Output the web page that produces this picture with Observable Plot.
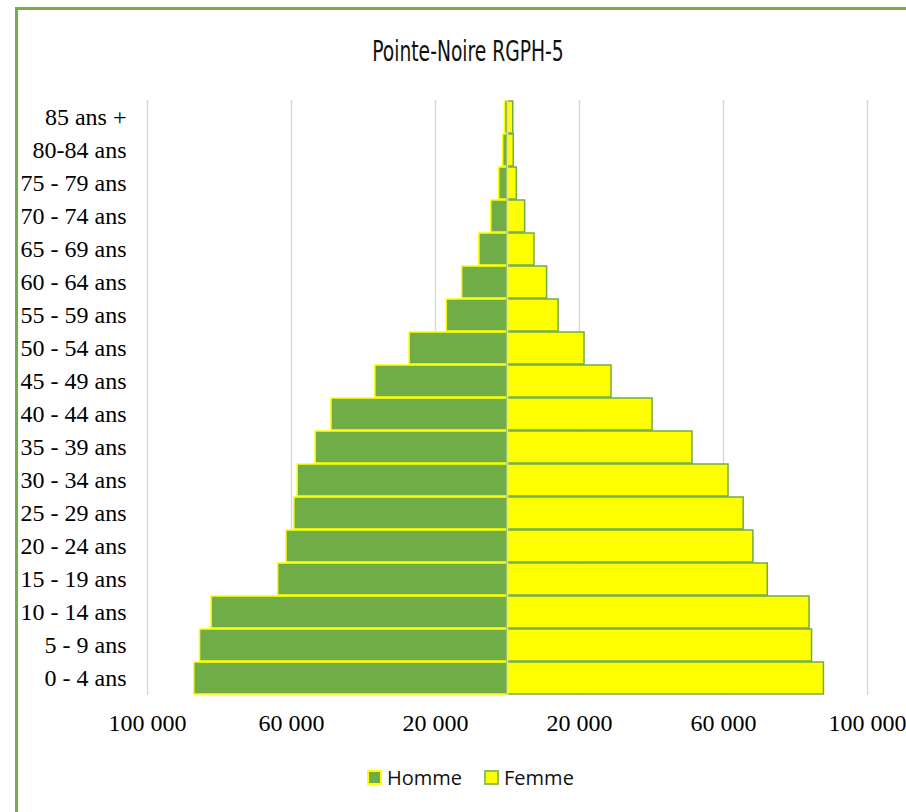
<!DOCTYPE html>
<html>
<head>
<meta charset="utf-8">
<script src="https://cdn.jsdelivr.net/npm/d3@7"></script>
<script src="https://cdn.jsdelivr.net/npm/@observablehq/plot@0.6"></script>
<style>
  html, body { margin: 0; padding: 0; background: #fff; overflow: hidden; width: 906px; height: 812px; }
  #frame { position: absolute; left: 15px; top: 7px; width: 1200px; height: 1200px; border: 3px solid #72AE4A; box-sizing: border-box; }
  #title { position: absolute; left: 0; top: 36px; width: 936px; text-align: center; font-family: "DejaVu Sans Condensed", "Liberation Sans Narrow", sans-serif; font-size: 26px; color: #111; transform: scale(0.8, 1.08); transform-origin: 468px 50%; }
  #chart { position: absolute; left: 0; top: 90px; }
  #legend { position: absolute; top: 764px; left: 367px; display: flex; align-items: center; font-family: "Open Sans", sans-serif; font-size: 20px; color: #111; }
  .sw { width: 11px; height: 11px; border: 2px solid; margin-right: 5px; }
  .item { display: flex; align-items: center; margin-right: 22px; }
</style>
</head>
<body>
<div id="frame"></div>
<div id="title">Pointe-Noire RGPH-5</div>
<div id="chart"></div>
<div id="legend"></div>
<script>
const ageGroups = ["0 - 4 ans","5 - 9 ans","10 - 14 ans","15 - 19 ans","20 - 24 ans","25 - 29 ans","30 - 34 ans","35 - 39 ans","40 - 44 ans","45 - 49 ans","50 - 54 ans","55 - 59 ans","60 - 64 ans","65 - 69 ans","70 - 74 ans","75 - 79 ans","80-84 ans","85 ans +"];
const homme = [87000, 85400, 82200, 63700, 61400, 59200, 58300, 53300, 48900, 36700, 27200, 16900, 12600, 7800, 4500, 2300, 1200, 700];
const femme = [87900, 84600, 83900, 72300, 68300, 65600, 61400, 51400, 40300, 28900, 21400, 14200, 11000, 7500, 4900, 2600, 1750, 1600];
const xTicks = [-100000, -60000, -20000, 20000, 60000, 100000];
const seriesNames = ["Homme", "Femme"];

const green = "#70AD47";
const yellow = "#FFFF00";

const rows = [];
ageGroups.forEach((g, i) => {
  rows.push({age: g, sexe: "Homme", v: -homme[i]});
  rows.push({age: g, sexe: "Femme", v: femme[i]});
});

const fmt = d => d3.format(",")(Math.abs(d)).replace(/,/g, " ");

const chart = Plot.plot({
  width: 906,
  height: 650,
  marginTop: 10,
  marginBottom: 45,
  marginLeft: 147,
  marginRight: 39,
  style: {fontFamily: "Liberation Serif, Times New Roman, serif", fontSize: "24px", color: "#000", background: "transparent", overflow: "visible"},
  x: {domain: [-100000, 100000], ticks: xTicks, tickFormat: fmt, label: null},
  y: {domain: ageGroups.slice().reverse(), paddingInner: 0.04, paddingOuter: 0.02, label: null},
  marks: [
    Plot.ruleX(xTicks, {stroke: "#d9d9d9", strokeWidth: 1.5}),
    Plot.barX(rows.filter(d => d.sexe === "Homme"), {x: "v", y: "age", fill: green, stroke: yellow, strokeWidth: 1.5}),
    Plot.barX(rows.filter(d => d.sexe === "Femme"), {x: "v", y: "age", fill: yellow, stroke: green, strokeWidth: 1.5}),
    Plot.ruleX([0], {stroke: "#d9d9d9", strokeWidth: 1.5}),
    Plot.axisX({ticks: xTicks, tickFormat: fmt, tickSize: 0, tickPadding: 18, fill: "#000"}),
    Plot.axisY({tickSize: 0, tickPadding: 21, fill: "#000"})
  ]
});
document.getElementById("chart").appendChild(chart);

const legend = document.getElementById("legend");
seriesNames.forEach((n, i) => {
  const it = document.createElement("div");
  it.className = "item";
  const sw = document.createElement("div");
  sw.className = "sw";
  sw.style.background = i === 0 ? green : yellow;
  sw.style.borderColor = i === 0 ? yellow : "#8DBF6A";
  const t = document.createElement("span");
  t.textContent = n;
  it.appendChild(sw);
  it.appendChild(t);
  legend.appendChild(it);
});
</script>
</body>
</html>
